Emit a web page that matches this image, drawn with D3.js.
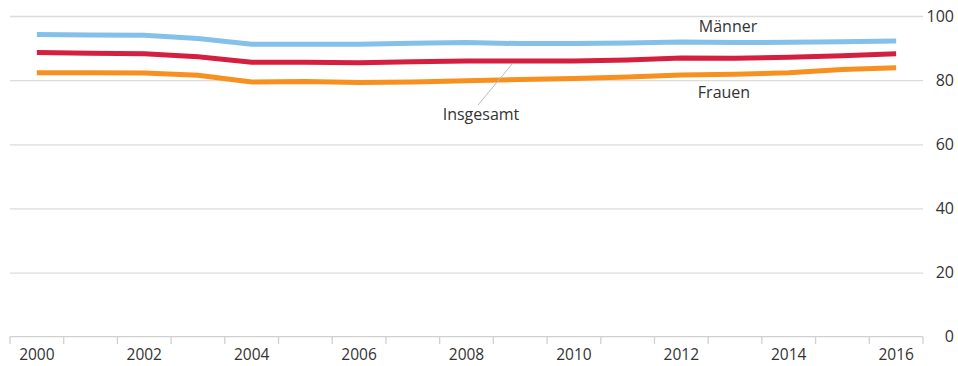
<!DOCTYPE html>
<html><head><meta charset="utf-8">
<script src="https://cdn.jsdelivr.net/npm/d3@7"></script>
<style>body{margin:0;background:#fff}svg{display:block}text{font-family:"Open Sans",sans-serif;fill:#333}</style>
</head><body><svg id="c" width="958" height="366"></svg>
<script>
const years = d3.range(2000, 2017);
const maenner = [94.2,94.1,94.0,93.0,91.2,91.2,91.2,91.5,91.7,91.4,91.4,91.6,91.9,91.7,91.8,92.0,92.2];
const insgesamt = [88.6,88.4,88.2,87.3,85.6,85.6,85.4,85.7,86.0,86.0,86.0,86.3,86.9,86.8,87.1,87.6,88.2];
const frauen = [82.3,82.3,82.2,81.5,79.4,79.6,79.3,79.4,79.8,80.2,80.5,81.0,81.6,81.8,82.3,83.3,83.9];
const yTicks = [0,20,40,60,80,100];
const xLabels = [2000,2002,2004,2006,2008,2010,2012,2014,2016];

const svg = d3.select("#c");
const x = d3.scaleBand().domain(years).range([10, 923]).padding(0);
const y = d3.scaleLinear().domain([0,100]).range([336.7, 16]);

// grid
svg.append("g").selectAll("line").data(yTicks.filter(d=>d>0)).join("line")
  .attr("x1",10).attr("x2",923).attr("y1",d=>y(d)+0.5).attr("y2",d=>y(d)+0.5)
  .attr("stroke","#dcdcdc").attr("stroke-width",1.3);
svg.append("g").selectAll("text").data(yTicks).join("text")
  .attr("x",954).attr("y",d=>y(d)).attr("dy","0.35em").attr("text-anchor","end")
  .attr("font-size",16).text(d=>d);

// x axis
const ax = svg.append("g");
ax.append("line").attr("x1",10).attr("x2",923).attr("y1",336.7).attr("y2",336.7).attr("stroke","#d0d0d0").attr("stroke-width",1.3);
const bounds = years.map(d=>x(d)).concat([x(2016)+x.bandwidth()]);
ax.selectAll("line.t").data(bounds).join("line").attr("class","t")
  .attr("x1",d=>d).attr("x2",d=>d).attr("y1",336.7).attr("y2",344).attr("stroke","#d0d0d0").attr("stroke-width",1.3);
ax.selectAll("text").data(xLabels).join("text")
  .attr("x",d=>x(d)+x.bandwidth()/2).attr("y",354.5).attr("dy","0.35em").attr("text-anchor","middle")
  .attr("font-size",15.5).text(d=>d);

const line = d3.line().x((d,i)=>x(years[i])+x.bandwidth()/2).y(d=>y(d));
[[frauen,"#f7901e"],[insgesamt,"#d51f3f"],[maenner,"#83c1ea"]].forEach(([s,c])=>{
  svg.append("path").datum(s).attr("d",line).attr("fill","none").attr("stroke",c).attr("stroke-width",5);
});

// labels
svg.append("line").attr("x1",x(2009)+x.bandwidth()/2-8).attr("y1",y(86.0)+3).attr("x2",478).attr("y2",105)
  .attr("stroke","#bbb").attr("stroke-width",1);
svg.append("text").attr("x",481).attr("y",114).attr("dy","0.35em").attr("text-anchor","middle").attr("font-size",16).text("Insgesamt");
svg.append("text").attr("x",728).attr("y",26).attr("dy","0.35em").attr("text-anchor","middle").attr("font-size",16).text("Männer");
svg.append("text").attr("x",724).attr("y",92).attr("dy","0.35em").attr("text-anchor","middle").attr("font-size",16).text("Frauen");
</script></body></html>
